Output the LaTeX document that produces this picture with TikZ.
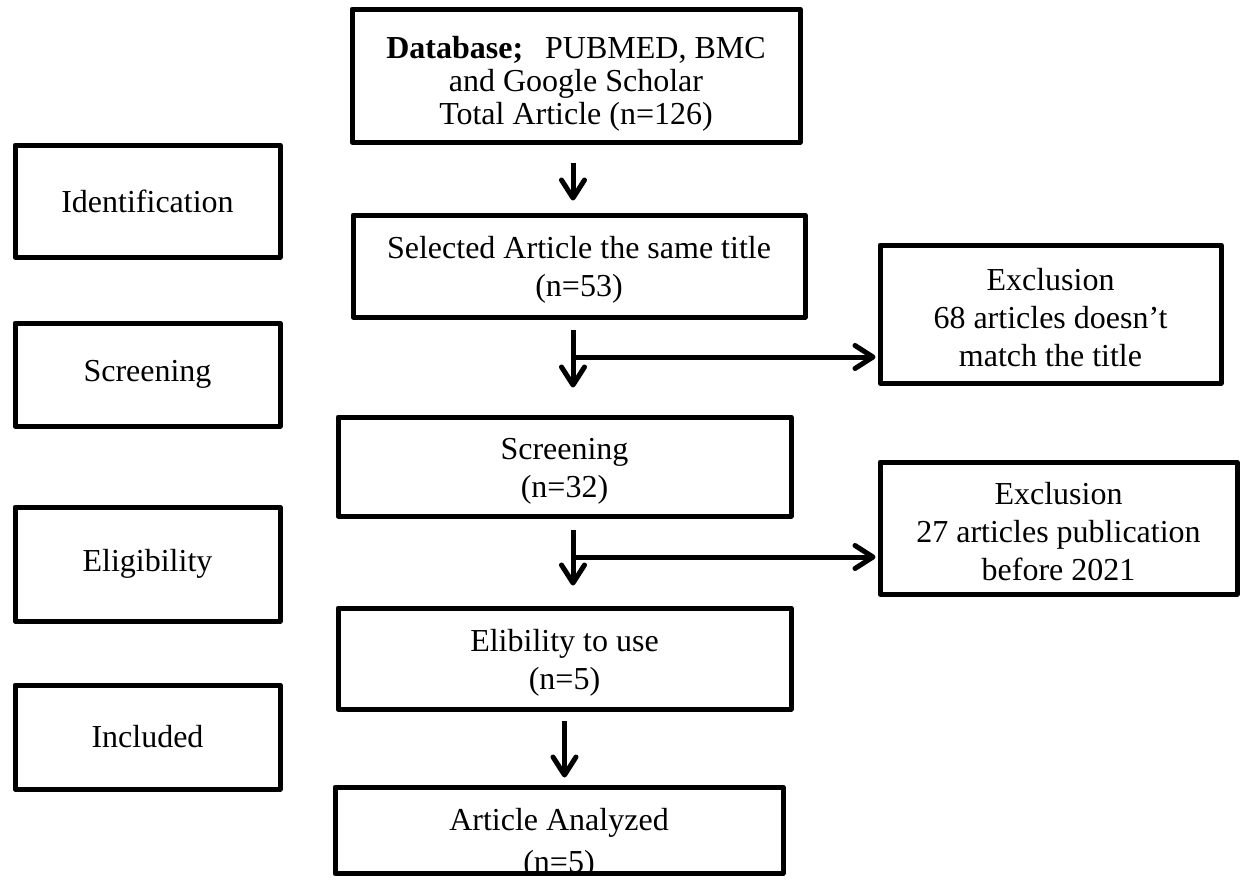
\documentclass[tikz,border=0pt]{standalone}
\usepackage{fontspec}
\setmainfont{Liberation Serif}
\usetikzlibrary{arrows.meta}
\newcommand{\fstrut}{\rule{0pt}{30pt}}
\begin{document}
\begin{tikzpicture}[x=1pt,y=-1pt,
  box/.style={draw, line width=5pt, line join=round, rectangle, inner sep=0pt, align=center, font=\fontsize{32}{38}\selectfont},
  arr/.style={line width=5pt, -{Straight Barb[length=18pt,width=23pt,round]}},
  txt/.style={inner sep=0pt, align=center, font=\fontsize{32}{42}\selectfont}]
\useasboundingbox (0,0) rectangle (1243,879);

% left stage boxes
\node[box, minimum width=265pt, minimum height=112pt] (ident) at (147.5,201) {Identification};
\node[box, minimum width=265pt, minimum height=103pt] (scrL) at (147.5,374.5) {Screening};
\node[box, minimum width=265pt, minimum height=114pt] (eligL) at (147.5,564) {Eligibility};
\node[box, minimum width=265pt, minimum height=104pt] (incl) at (147.5,737) {Included};

% main flow
\node[box, font=\fontsize{32}{33}\selectfont, minimum width=448pt, minimum height=133pt] (db) at (576,75.5)
  {\rule{0pt}{38pt}\textbf{Database;}\hspace{14pt} PUBMED, BMC\\and Google Scholar\\Total Article (n=126)};
\node[box, minimum width=452pt, minimum height=102pt] (sel) at (579,266)
  {\fstrut Selected Article the same title\\(n=53)};
\node[box, minimum width=341pt, minimum height=138pt] (exc1) at (1050.5,314)
  {\fstrut Exclusion\\68 articles doesn’t\\match the title};
\node[box, minimum width=453pt, minimum height=99pt] (scr) at (564.5,466.5)
  {\fstrut Screening\\(n=32)};
\node[box, minimum width=357pt, minimum height=132pt] (exc2) at (1058.5,528)
  {\fstrut Exclusion\\27 articles publication\\before 2021};
\node[box, minimum width=453pt, minimum height=101pt] (elig) at (564.5,658.5)
  {\fstrut Elibility to use\\(n=5)};
\node[box, minimum width=448pt, minimum height=86.5pt] (ana) at (559,830.25) {};
\begin{scope}
  \clip ([xshift=2.5pt,yshift=2.5pt]ana.south west) rectangle ([xshift=-2.5pt,yshift=-2.5pt]ana.north east);
  \node[txt, anchor=north] (anatext) at (559,808) {Article Analyzed\\(n=5)};
\end{scope}

% connectors
\coordinate (spine) at (573,0);
\coordinate (j1) at (573,357);
\coordinate (j2) at (573,557);
\draw[arr, shorten <=18pt, shorten >=12pt] (db.south -| spine) -- (sel.north -| spine);
\draw[arr, shorten <=10pt, shorten >=27pt] (sel.south -| spine) -- (scr.north -| spine);
\draw[arr, shorten >=2pt] (j1) -- (j1 -| exc1.west);
\draw[arr, shorten <=11pt, shorten >=20pt] (scr.south -| spine) -- (elig.north -| spine);
\draw[arr, shorten >=2pt] (j2) -- (j2 -| exc2.west);
\draw[arr, shorten <=9pt, shorten >=7pt] (elig.south) -- (elig.south |- ana.north);
\end{tikzpicture}
\end{document}
